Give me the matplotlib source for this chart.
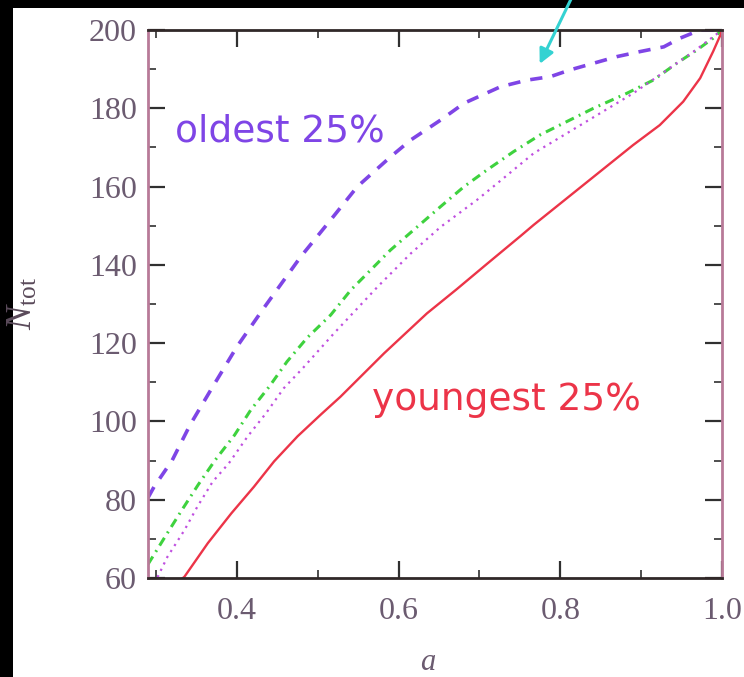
import matplotlib.pyplot as plt
from matplotlib.patches import Rectangle
from matplotlib.ticker import MultipleLocator

plt.rcParams['mathtext.fontset'] = 'custom'
plt.rcParams['mathtext.rm'] = 'Liberation Serif'
plt.rcParams['mathtext.it'] = 'Liberation Serif:italic'

# curves: a vs N_tot
a_old = [0.29, 0.2975, 0.320, 0.342, 0.369, 0.400, 0.433, 0.479, 0.516, 0.549, 0.590, 0.615, 0.652,
         0.681, 0.726, 0.759, 0.788, 0.812, 0.841, 0.870, 0.899, 0.928, 0.948, 0.973, 1.0]
n_old = [80.5, 83.3, 90.1, 99.1, 108.5, 119.1, 128.9, 142.1, 151.5, 160, 167.6, 171.9, 177,
         181.3, 185.5, 187.2, 188.1, 189.8, 191.5, 193.2, 194.5, 195.7, 197.9, 200, 200]

a_mid = [0.29, 0.311, 0.332, 0.352, 0.373, 0.397, 0.417, 0.440, 0.462, 0.487, 0.516, 0.541, 0.590,
         0.623, 0.652, 0.681, 0.709, 0.742, 0.775, 0.808, 0.841, 0.882, 0.915, 0.944, 0.969, 0.989, 1.0]
n_mid = [63.5, 70.5, 77.4, 83.8, 90.1, 96.5, 102.9, 108.9, 115.3, 121.4, 127.2, 133.6, 143.8,
         149.7, 154.9, 160, 164.2, 168.9, 173.2, 176.6, 180, 183.8, 187.2, 191.5, 194.9, 197.9, 200]

a_all = [0.29, 0.302, 0.314, 0.335, 0.351, 0.370, 0.390, 0.413, 0.436, 0.458, 0.481, 0.520, 0.574,
         0.615, 0.652, 0.697, 0.726, 0.767, 0.808, 0.849, 0.890, 0.930, 0.965, 1.0]
n_all = [57.5, 60.3, 65.4, 72.2, 78.2, 84.6, 89.3, 96.1, 102.1, 108.5, 113.5, 122.5, 134.4,
         142.9, 149.7, 156.6, 161.5, 168.5, 173.6, 178.7, 183.8, 189.5, 194.5, 200]

a_young = [0.33, 0.335, 0.364, 0.393, 0.421, 0.446, 0.475, 0.504, 0.528, 0.582, 0.635, 0.672, 0.709,
           0.751, 0.767, 0.808, 0.849, 0.890, 0.923, 0.952, 0.973, 0.989, 0.998, 1.0]
n_young = [59.5, 60.3, 68.9, 76.5, 83.3, 89.8, 96.2, 101.8, 106.3, 117.4, 127.6, 133.8, 140.2,
           147.4, 150.2, 157, 163.8, 170.6, 175.7, 181.7, 187.7, 194.5, 198.7, 200]

fig = plt.figure(figsize=(7.44, 6.77), dpi=100, facecolor='black')
# white slide area (black strip on top and left)
fig.patches.append(Rectangle((13/744, 0), 1, 1 - 8/677, transform=fig.transFigure,
                             facecolor='white', edgecolor='none', zorder=-5))
ax = fig.add_axes([148/744, 1 - 578/677, 574/744, 548/677])

ax.plot(a_old, n_old, color='#7f45e6', lw=2.6, ls=(0, (3.4, 2.8)))
ax.plot(a_mid, n_mid, color='#3ed23e', lw=2.2, ls=(0, (3, 1.8, 0.6, 1.8)))
ax.plot(a_all, n_all, color='#c050e0', lw=1.6, ls=(0, (1, 2.2)))
ax.plot(a_young, n_young, color='#ec3448', lw=1.7)

ax.set_xlim(0.29, 1.0)
ax.set_ylim(60, 200)
ax.xaxis.set_minor_locator(MultipleLocator(0.1))
ax.yaxis.set_major_locator(MultipleLocator(20))
ax.yaxis.set_minor_locator(MultipleLocator(10))
ax.set_xticks([0.4, 0.6, 0.8, 1.0])
ax.set_xticklabels(['0.4', '0.6', '0.8', '1.0'])

ax.tick_params(which='both', direction='in', top=True, right=True, color='#303030',
               labelsize=23, labelcolor='#6b5b70', labelfontfamily='Liberation Serif')
ax.tick_params(which='major', length=12, width=1.6)
ax.tick_params(which='minor', length=6, width=1.2)
ax.tick_params(axis='x', which='major', pad=14)
ax.tick_params(axis='y', which='major', pad=8)

for side in ['left', 'right']:
    ax.spines[side].set_color('#b87a98')
    ax.spines[side].set_linewidth(2)
for side in ['top', 'bottom']:
    ax.spines[side].set_color('#302828')
    ax.spines[side].set_linewidth(2)

ax.set_ylabel(r'$N_{\rm tot}$', fontsize=26, color='#5a4a5a')
ax.yaxis.set_label_coords(-0.19, 0.5)
ax.set_xlabel(r'$a$', fontsize=22, color='#6b5b70')
ax.xaxis.set_label_coords(0.488, -0.125)

ax.text(0.323, 174, 'oldest 25%', color='#7f45e6', fontsize=27, family='DejaVu Sans', va='center')
ax.text(0.567, 105.5, 'youngest 25%', color='#ec3448', fontsize=27, family='DejaVu Sans', va='center')

# cyan arrow coming from above the axes
ax.annotate('', xy=(0.773, 190.7), xytext=(0.817, 209.5),
            arrowprops=dict(arrowstyle='-|>', color='#34d2d2', lw=2.2, mutation_scale=22),
            annotation_clip=False)

fig.savefig('out.png', dpi=100, facecolor=fig.get_facecolor())
